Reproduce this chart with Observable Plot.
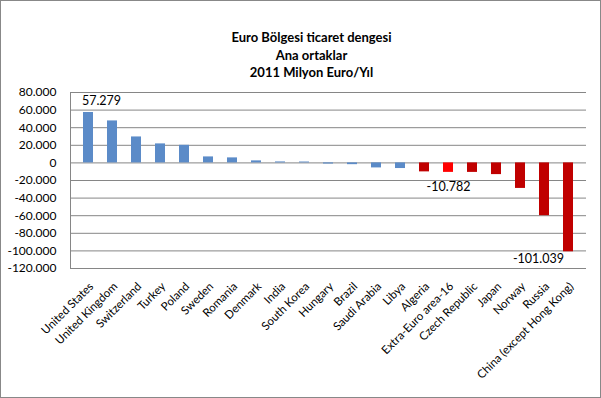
<!DOCTYPE html>
<html>
<head>
<meta charset="utf-8">
<script src="https://cdn.jsdelivr.net/npm/d3@7"></script>
<script src="https://cdn.jsdelivr.net/npm/@observablehq/plot@0.6"></script>
<style>
  html, body { margin: 0; padding: 0; background: #fff; }
</style>
</head>
<body>
<div id="chart"></div>
<script>
const titleLines = ["Euro Bölgesi ticaret dengesi", "Ana ortaklar", "2011 Milyon Euro/Yıl"];
const categories = ["United States", "United Kingdom", "Switzerland", "Turkey", "Poland", "Sweden",
  "Romania", "Denmark", "India", "South Korea", "Hungary", "Brazil", "Saudi Arabia", "Libya",
  "Algeria", "Extra-Euro area-16", "Czech Republic", "Japan", "Norway", "Russia", "China (except Hong Kong)"];
const values = [57279, 47700, 29500, 21600, 20000, 6800, 5700, 2300, 1100, 1000, -1300, -2000, -5700, -6400,
  -10200, -10782, -10800, -13300, -29000, -60000, -101039];
const yTicks = [80000, 60000, 40000, 20000, 0, -20000, -40000, -60000, -80000, -100000, -120000];
const firstRed = "Algeria";
const highlight = "Extra-Euro area-16";
const labelled = {"United States": "57.279", "Extra-Euro area-16": "-10.782", "China (except Hong Kong)": "-101.039"};

const data = categories.map((c, i) => ({category: c, value: values[i], i}));
const redStart = categories.indexOf(firstRed);
const fmt = v => v === 0 ? "0" : d3.format(",")(v).replace(/,/g, ".").replace("−", "-");

const chart = Plot.plot({
  width: 601,
  height: 398,
  marginLeft: 70,
  marginRight: 15,
  marginTop: 92,
  marginBottom: 130,
  style: {fontFamily: "Lato", fontSize: "11px", color: "#000", background: "#fff",
          outline: "1px solid #888", outlineOffset: "-1px"},
  x: {domain: categories, paddingInner: 0.57, paddingOuter: 0.285, align: 0.5, label: null},
  y: {domain: [-120000, 80000], label: null},
  marks: [
    Plot.ruleY(yTicks, {stroke: "#868686", strokeWidth: 1}),
    Plot.frame({anchor: "left", stroke: "#868686"}),
    Plot.barY(data, {
      x: "category", y: "value",
      fill: d => d.category === highlight ? "#FF0000" : (d.i >= redStart ? "#C00000" : "#5B8BC8")
    }),
    Plot.text(data.filter(d => d.category === "United States"), {
      x: "category", y: "value", text: d => labelled[d.category], dx: 13, dy: -11,
      fontSize: 12.5, fill: "#000"
    }),
    Plot.text(data.filter(d => d.category === "Extra-Euro area-16"), {
      x: "category", y: "value", text: d => labelled[d.category], dx: 0, dy: 15,
      fontSize: 12.5, fill: "#000"
    }),
    Plot.text(data.filter(d => d.category === "China (except Hong Kong)"), {
      x: "category", y: "value", text: d => labelled[d.category], dx: -30, dy: 7,
      fontSize: 12.5, fill: "#000"
    }),
    Plot.axisY({ticks: yTicks, tickFormat: fmt, tickSize: 0, tickPadding: 14, fontSize: 12}),
    Plot.axisX({tickSize: 0, tickPadding: 16, dx: 3, tickRotate: -45, fontSize: 11.5}),
    Plot.text([titleLines.join("\n")], {
      frameAnchor: "top", lineAnchor: "top", dx: -17, dy: -63,
      fontWeight: "bold", fontSize: 13, lineHeight: 1.35, fill: "#000"
    })
  ]
});
document.getElementById("chart").append(chart);
</script>
</body>
</html>
